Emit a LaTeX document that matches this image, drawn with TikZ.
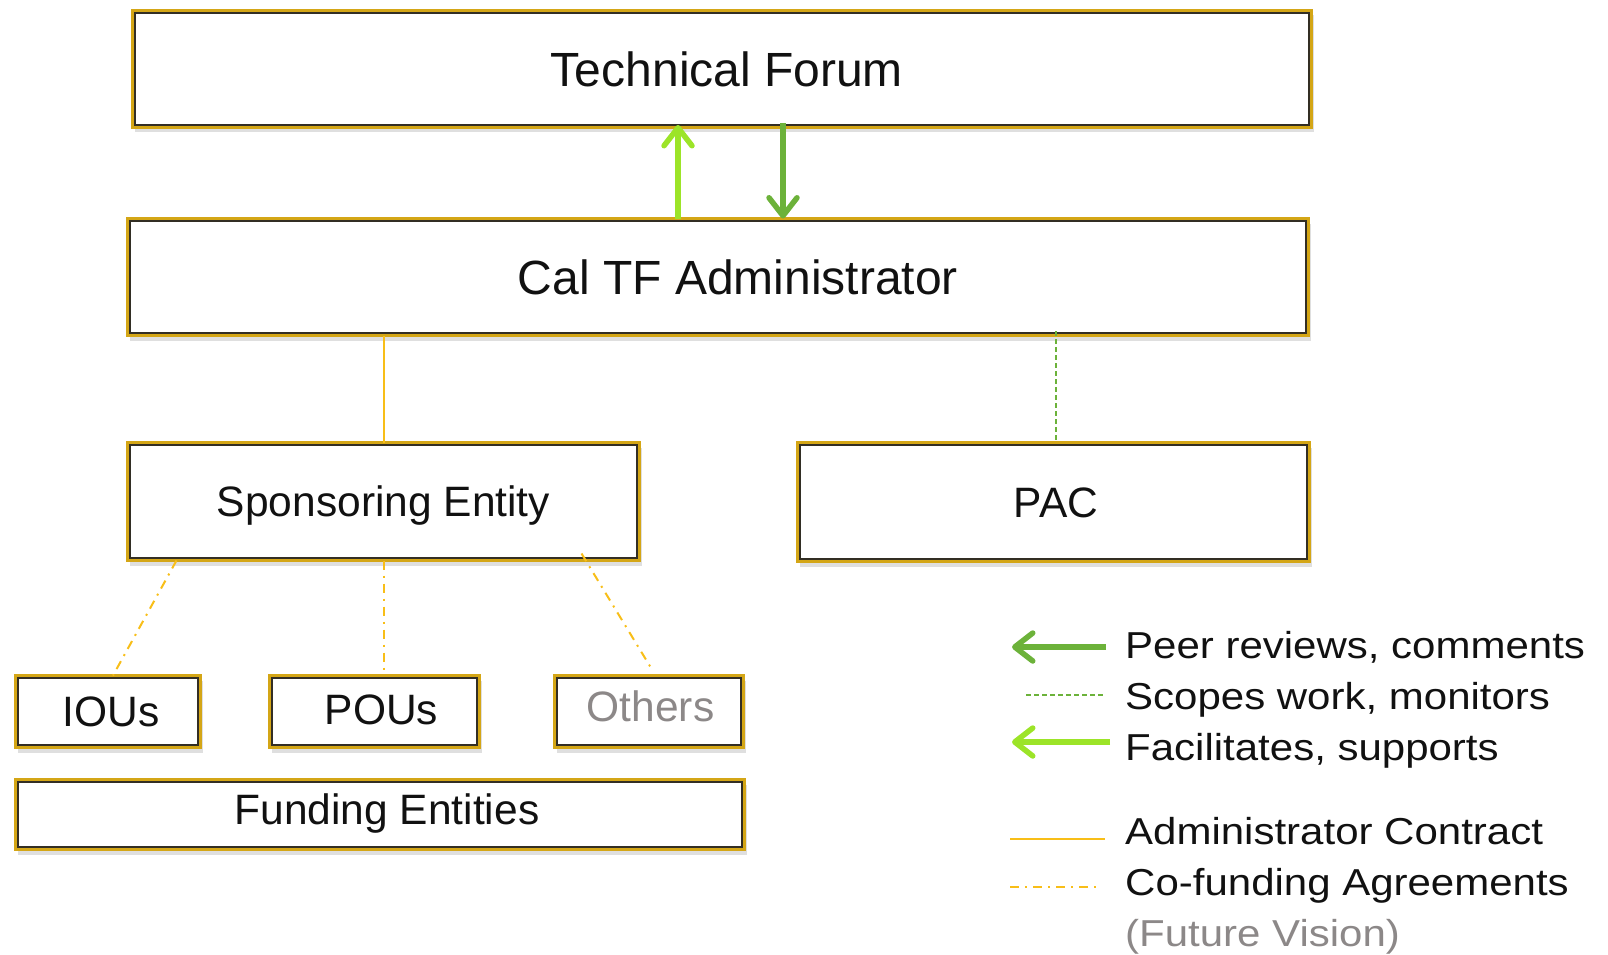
\documentclass[tikz,border=0pt]{standalone}
\usepackage{fontspec}
\setmainfont{Liberation Sans}
\newfontfamily\legendfont[FakeStretch=1.12]{Liberation Sans}
\usetikzlibrary{arrows.meta,shadows,calc}
\definecolor{boxgold}{RGB}{212,166,22}
\definecolor{boxdark}{RGB}{50,46,36}
\definecolor{linegold}{RGB}{248,190,24}
\definecolor{darkgreen}{RGB}{108,178,58}
\definecolor{lightgreen}{RGB}{156,228,40}
\definecolor{txtgrey}{RGB}{140,136,136}
\definecolor{txtblack}{RGB}{17,17,17}
\begin{document}
\begin{tikzpicture}[x=1pt,y=-1pt,
  box/.style={draw=boxgold, line width=3pt, fill=white, outer sep=0pt, inner sep=0pt,
    text=txtblack, text depth=0pt,
    drop shadow={opacity=0.25, shadow xshift=2pt, shadow yshift=-5pt}},
  innerline/.style={draw=boxdark, line width=1.4pt},
  bigtxt/.style={font=\fontsize{48}{56}\selectfont, text height=34.4pt},
  midtxt/.style={font=\fontsize{42.5}{51}\selectfont, text height=30.4pt},
  legtxt/.style={anchor=base west, inner sep=0pt, text=txtblack,
    font=\legendfont\fontsize{37.5}{45}\selectfont},
  contract/.style={draw=linegold, line width=2pt},
  scopeline/.style={draw=darkgreen, line width=2pt, dash pattern=on 5pt off 3pt},
  cofund/.style={draw=linegold, line width=2pt, dash pattern=on 9pt off 6pt on 2pt off 6pt},
  peer/.style={draw=darkgreen, line width=5.5pt, -{Straight Barb[length=18pt, width=28pt, round]}},
  facil/.style={draw=lightgreen, line width=5.5pt, -{Straight Barb[length=18pt, width=28pt, round]}}
]
\useasboundingbox (0,0) rectangle (1608,955);

% boxes
\node[box,bigtxt,minimum width=1179pt,minimum height=117pt] (tf) at (722,69) {\hspace*{10pt}Technical Forum};
\node[box,bigtxt,minimum width=1181pt,minimum height=117pt] (adm) at (718,277) {\hspace*{40pt}Cal TF Administrator};
\node[box,midtxt,minimum width=512pt,minimum height=118pt] (sp) at (383.5,501.5) {Sponsoring Entity};
\node[box,midtxt,minimum width=512pt,minimum height=119pt] (pac) at (1053.5,502) {\hspace*{5pt}PAC};
\node[box,midtxt,minimum width=185pt,minimum height=72pt] (iou) at (108,711.5) {\hspace*{6pt}IOUs};
\node[box,midtxt,minimum width=210pt,minimum height=72pt,text depth=5pt] (pou) at (374.5,711.5) {\hspace*{14pt}POUs};
\node[box,midtxt,text=txtgrey,minimum width=189pt,minimum height=72pt,text depth=11pt] (oth) at (649,711.5) {\hspace*{3pt}Others};
\node[box,midtxt,minimum width=729pt,minimum height=70pt,text depth=11pt] (fund) at (380,814.5) {\hspace*{14pt}Funding Entities};

\foreach \n in {tf,adm,sp,pac,iou,pou,oth,fund}
  \draw[innerline] ($(\n.north west)+(2.6,2.6)$) rectangle ($(\n.south east)+(-2.6,-2.6)$);

% connectors
\coordinate (ua) at (678,0);
\coordinate (da) at (783,0);
\draw[facil, shorten >=-2.5pt] (adm.north -| ua) -- (tf.south -| ua);
\draw[peer, shorten <=-4pt] (tf.south -| da) -- (adm.north -| da);
\draw[contract] (sp.north) -- (sp.north |- adm.south);
\draw[scopeline] ($(pac.north)+(2.5,-3)$) -- ($(pac.north |- adm.south)+(2.5,-5)$);
\draw[cofund] ($(sp.south west)+(49,0)$) -- ($(iou.north)+(5,0)$);
\draw[cofund] (sp.south) -- ($(sp.south |- pou.north)+(0,-5)$);
\draw[cofund] ($(sp.south west)+(454,-7)$) -- ($(oth.north)+(3,-6)$);

% legend
\coordinate (l1a) at (1106,647); \coordinate (l1b) at (1012,647);
\coordinate (l2a) at (1026,695); \coordinate (l2b) at (1104,695);
\coordinate (l3a) at (1110,742); \coordinate (l3b) at (1012,742);
\coordinate (l4a) at (1010,839); \coordinate (l4b) at (1105,839);
\coordinate (l5a) at (1010,887); \coordinate (l5b) at (1100,887);
\draw[peer] (l1a) -- (l1b);
\draw[scopeline] (l2a) -- (l2b);
\draw[facil] (l3a) -- (l3b);
\draw[contract, line width=2.5pt] (l4a) -- (l4b);
\draw[cofund, line width=2.5pt] (l5a) -- (l5b);

\node[legtxt] (t1) at (1125,658) {Peer reviews, comments};
\node[legtxt] (t2) at (1125,709) {Scopes work, monitors};
\node[legtxt] (t3) at (1125,760) {Facilitates, supports};
\node[legtxt] (t4) at (1125,844) {Administrator Contract};
\node[legtxt] (t5) at (1125,895) {Co-funding Agreements};
\node[legtxt, text=txtgrey] (t6) at (1125,946) {(Future Vision)};
\end{tikzpicture}
\end{document}
